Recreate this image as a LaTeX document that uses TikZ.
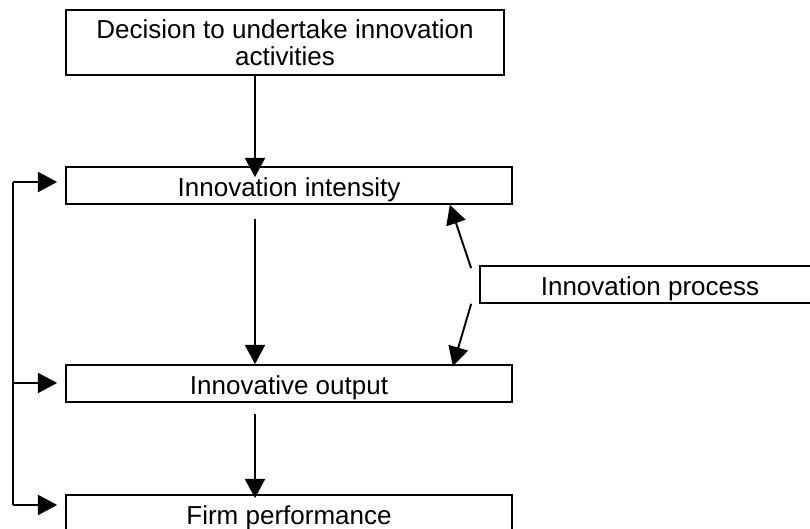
\documentclass[tikz,border=0pt]{standalone}
\usepackage{fontspec}
\setmainfont{Liberation Sans}
\usetikzlibrary{calc}
\usetikzlibrary{arrows.meta}

\tikzset{
  box/.style={draw, line width=1.2pt, minimum height=0.925cm, inner sep=0pt, align=center,
    font=\fontsize{18.5}{19.5}\selectfont},
  onebox/.style={box, text height=19pt, text depth=4pt},
  arr/.style={line width=1.4pt, -{Triangle[length=0.48cm, width=0.5cm]}}
}

\begin{document}
\begin{tikzpicture}

\useasboundingbox (0,0) rectangle (20.25,13.225);
\clip (0,0) rectangle (20.25,13.225);

\node[box, minimum width=10.95cm, minimum height=1.625cm] (decision) at (7.125,12.1625)
  {Decision to undertake innovation\\activities};
\node[onebox, minimum width=11.15cm] (intensity) at (7.225,8.5875) {Innovation intensity};
\node[onebox, minimum width=11.15cm] (output) at (7.225,3.6375) {Innovative output};
\node[onebox, minimum width=11.15cm] (firm) at (7.225,0.3875) {Firm performance};
\node[onebox, minimum width=8.5cm] (process) at (16.25,6.1125) {Innovation process};

\coordinate (spine) at (6.375,0);
\coordinate (l1) at (0.325,8.675);
\coordinate (l2) at (0.325,3.65);
\coordinate (l3) at (0.325,0.6);

% main chain
\draw[arr] (decision.south -| spine) -- ([yshift=-0.275cm]intensity.north -| spine);
\draw[arr] ([yshift=-0.35cm]intensity.south -| spine) -- (output.north -| spine);
\draw[arr] ([yshift=-0.275cm]output.south -| spine) -- ([yshift=-0.1cm]firm.north -| spine);

% feedback
\draw[line width=1.4pt] (l1) -- (l3);
\draw[arr] (l1) -- ([xshift=-0.2cm]l1 -| intensity.west);
\draw[arr] (l2) -- ([xshift=-0.2cm]l2 -| output.west);
\draw[arr] (l3) -- ([xshift=-0.2cm]l3 -| firm.west);

% process
\draw[arr] ([xshift=-0.2cm,yshift=-0.075cm]process.north west) -- ([xshift=-1.575cm]intensity.south east);
\draw[arr] ([xshift=-0.2cm]process.south west) -- ([xshift=-1.5cm,yshift=-0.05cm]output.north east);

\end{tikzpicture}
\end{document}
